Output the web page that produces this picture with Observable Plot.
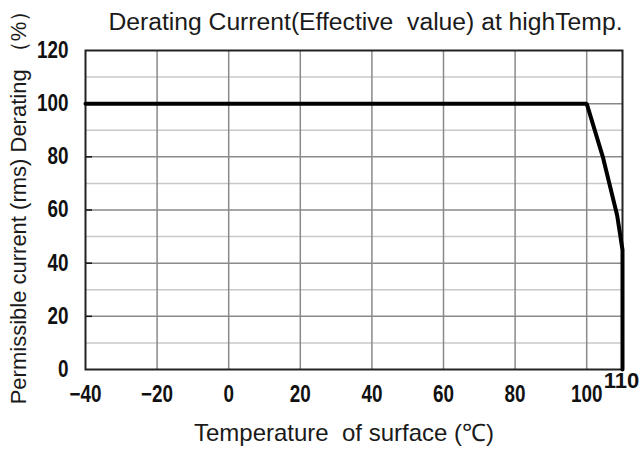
<!DOCTYPE html>
<html>
<head>
<meta charset="utf-8">
<script src="https://cdn.jsdelivr.net/npm/d3@7"></script>
<script src="https://cdn.jsdelivr.net/npm/@observablehq/plot@0.6"></script>
<style>
  html, body { margin: 0; padding: 0; background: #fff; }
  #chart svg { display: block; overflow: visible; }
</style>
</head>
<body>
<div id="chart"></div>
<script>
// Data
const temps = [-40, 100, 104.5, 108.5, 110, 110];
const derating = [100, 100, 80, 58, 45, 0];
const xTicks = [-40, -20, 0, 20, 40, 60, 80, 100];
const xEndTick = [110];
const xGrid = [-20, 0, 20, 40, 60, 80, 100];
const yTicks = [0, 20, 40, 60, 80, 100, 120];
const yMinor = [10, 30, 50, 70, 90, 110];
const yMajorGrid = [20, 40, 60, 80, 100];

const titleText = "Derating Current(Effective\u00a0 value) at highTemp.";
const xLabel = "Temperature\u00a0 of surface (\u2103)";
const yLabel = "Permissible current (rms) Derating\u00a0\uff08%\uff09";

const curve = temps.map((t, i) => ({t, d: derating[i]}));

const tickFont = "'Liberation Sans', Arial, sans-serif";
const textFont = "'Liberation Sans', Arial, sans-serif";

const chart = Plot.plot({
  width: 640,
  height: 450,
  marginLeft: 85,
  marginRight: 18,
  marginTop: 50,
  marginBottom: 81,
  style: {background: "#fff", fontFamily: textFont, overflow: "visible"},
  x: {domain: [-40, 110]},
  y: {domain: [0, 120]},
  marks: [
    Plot.ruleY(yMinor, {stroke: "#c8c8c8", strokeWidth: 1.5}),
    Plot.ruleY(yMajorGrid, {stroke: "#8a8a8a", strokeWidth: 1.5}),
    Plot.ruleX(xGrid, {stroke: "#8a8a8a", strokeWidth: 1.5}),
    Plot.axisY(yMajorGrid, {tickSize: -7, tickFormat: () => "", label: null, stroke: "#111", strokeWidth: 1.5}),
    Plot.frame({stroke: "#222", strokeWidth: 2}),
    Plot.line(curve, {x: "t", y: "d", stroke: "#000", strokeWidth: 4, strokeLinejoin: "miter"}),
    Plot.axisX(xTicks, {
      tickSize: 0, tickPadding: 16, fontSize: 23, fontWeight: "bold",
      fontFamily: tickFont, fill: "#111", label: null
    }),
    Plot.text(xEndTick, {
      x: d => d, text: d => String(d), frameAnchor: "bottom", lineAnchor: "middle", dy: 11, dx: -1,
      fontSize: 22, fontWeight: "bold", fontFamily: tickFont, fill: "#111", ariaLabel: "xend"
    }),
    Plot.axisY(yTicks, {
      tickSize: 0, tickPadding: 17, fontSize: 23, fontWeight: "bold",
      fontFamily: tickFont, fill: "#111", label: null
    }),
    Plot.text([xLabel], {
      text: d => d, frameAnchor: "bottom", lineAnchor: "middle", dy: 64, dx: -10,
      fontSize: 24, fontFamily: textFont, fill: "#1a1a1a"
    }),
    Plot.text([yLabel], {
      text: d => d, frameAnchor: "left", textAnchor: "middle", rotate: -90, dx: -67, dy: -8,
      fontSize: 22, fontFamily: textFont, fill: "#1a1a1a"
    }),
    Plot.text([titleText], {
      text: d => d, frameAnchor: "top-right", textAnchor: "end", lineAnchor: "middle", dy: -28,
      fontSize: 24.7, fontFamily: textFont, fill: "#1a1a1a"
    })
  ]
});
// condense the bold tick digits horizontally, as in the reference
d3.select(chart)
  .selectAll('g[aria-label="x-axis tick label"] text, g[aria-label="y-axis tick label"] text, g[aria-label="xend"] text')
  .each(function() {
    const t = this.getAttribute("transform");
    if (t && /translate/.test(t)) {
      this.setAttribute("transform", t + " scale(0.82,1)");
    } else {
      const x = +(this.getAttribute("x") || 0), y = +(this.getAttribute("y") || 0);
      this.removeAttribute("x"); this.removeAttribute("y");
      this.setAttribute("transform", (t || "") + ` translate(${x},${y}) scale(0.82,1)`);
    }
  });
document.getElementById("chart").appendChild(chart);
</script>
</body>
</html>
